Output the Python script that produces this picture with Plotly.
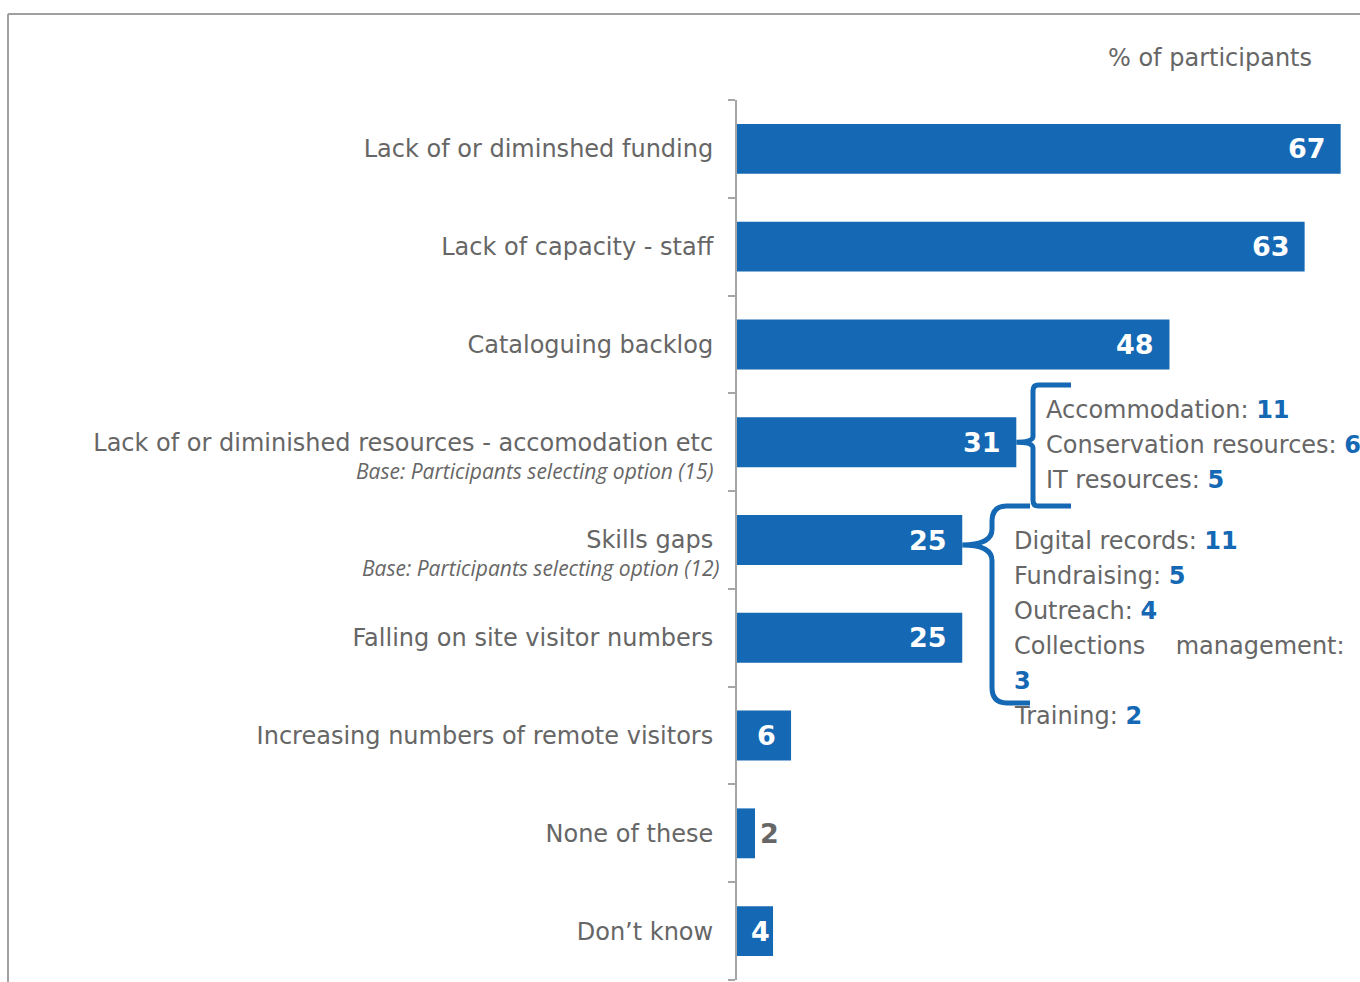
import plotly.graph_objects as go

# ---- data -------------------------------------------------------------
categories = [
    "Lack of or diminshed funding",
    "Lack of capacity - staff",
    "Cataloguing backlog",
    "Lack of or diminished resources - accomodation etc",
    "Skills gaps",
    "Falling on site visitor numbers",
    "Increasing numbers of remote visitors",
    "None of these",
    "Don\u2019t know",
]
values = [67, 63, 48, 31, 25, 25, 6, 2, 4]

base_notes = {
    3: "Base: Participants selecting option (15)",
    4: "Base: Participants selecting option (12)",
}

resource_items = ["Accommodation", "Conservation resources", "IT resources"]
resource_values = [11, 6, 5]

skills_items = ["Digital records", "Fundraising", "Outreach", "Collections management", "Training"]
skills_values = [11, 5, 4, 3, 2]

# ---- styling ----------------------------------------------------------
BLUE = "#1468b4"
GREY = "#666666"
AXIS_GREY = "#a6a6a6"
FONT = "DejaVu Sans"
TEXT_SIZE = 24

W, H = 1360, 982
L, R, T, B = 737, 0, 100, 2
PX_PER_UNIT = 9.01
X_MAX = (W - L - R) / PX_PER_UNIT
N = len(categories)
PLOT_H = H - T - B
ROW = PLOT_H / N


def px_x(px):
    """pixel column -> x data value"""
    return (px - L) / PX_PER_UNIT


def px_y(py):
    """pixel row -> y data value (rows run top to bottom)"""
    return (py - T) / ROW - 0.5


def paper_x(px):
    return (px - L) / (W - L - R)


def paper_y(py):
    return 1 - (py - T) / PLOT_H


fig = go.Figure()

fig.add_trace(go.Bar(
    x=values,
    y=list(range(N)),
    orientation="h",
    width=0.51,
    marker=dict(color=BLUE, line=dict(width=0)),
    hoverinfo="skip",
))

annotations = []

# value labels: white inside the bar end, grey beside very short bars
for i, v in enumerate(values):
    if v >= 5:
        annotations.append(dict(x=v, y=i, xref="x", yref="y", text=f"<b>{v}</b>",
                                showarrow=False, xanchor="right", xshift=-13,
                                font=dict(family=FONT, size=27, color="white")))
    elif v <= 2:
        annotations.append(dict(x=v, y=i, xref="x", yref="y", text=f"<b>{v}</b>",
                                showarrow=False, xanchor="left", xshift=3,
                                font=dict(family=FONT, size=27, color=GREY)))
    else:
        annotations.append(dict(x=v, y=i, xref="x", yref="y", text=f"<b>{v}</b>",
                                showarrow=False, xanchor="right", xshift=-1,
                                font=dict(family=FONT, size=27, color="white")))

# base notes under two category labels
for i, note in base_notes.items():
    annotations.append(dict(x=0, y=i + 0.29, xref="paper", yref="y", text=f"<i>{note}</i>",
                            showarrow=False, xanchor="right", xshift=-22 if i == 3 else -16,
                            font=dict(family="Open Sans", size=21, color=GREY)))

# axis caption
annotations.append(dict(x=paper_x(1314), y=paper_y(58), xref="paper", yref="paper",
                        text="% of participants", showarrow=False,
                        xanchor="right", yanchor="middle",
                        font=dict(family=FONT, size=TEXT_SIZE, color=GREY)))


def item_line(label, value):
    return f"{label}: <span style='color:{BLUE}'><b>{value}</b></span>"


LINE = 35  # px between breakdown lines

# breakdown of "resources"
for k, (lab, v) in enumerate(zip(resource_items, resource_values)):
    annotations.append(dict(x=px_x(1044), y=px_y(410 + k * LINE), xref="x", yref="y",
                            text=item_line(lab, v), showarrow=False, xanchor="left",
                            font=dict(family=FONT, size=TEXT_SIZE, color=GREY)))

# breakdown of "skills gaps"
lines = []
for lab, v in zip(skills_items, skills_values):
    if len(lab) > 20:
        first, second = lab.split(" ", 1)
        lines.append(first + "\u00a0\u00a0\u00a0 " + second + ":")
        lines.append(f"<span style='color:{BLUE}'><b>{v}</b></span>")
    else:
        lines.append(item_line(lab, v))
for k, txt in enumerate(lines):
    annotations.append(dict(x=px_x(1012), y=px_y(541 + k * LINE), xref="x", yref="y",
                            text=txt, showarrow=False, xanchor="left",
                            font=dict(family=FONT, size=TEXT_SIZE, color=GREY)))


def brace(tip_x, tip_y, vx, ex, top, bot, rx, ry):
    return (f"M {ex},{top} L {vx + rx},{top} Q {vx},{top} {vx},{top + ry} "
            f"L {vx},{tip_y - ry} Q {vx},{tip_y} {tip_x},{tip_y} "
            f"Q {vx},{tip_y} {vx},{tip_y + ry} "
            f"L {vx},{bot - ry} Q {vx},{bot} {vx + rx},{bot} L {ex},{bot}")


shapes = [
    # brace grouping the resource breakdown
    dict(type="path", xref="x", yref="y",
         path=brace(values[3], 3.0, px_x(1033), px_x(1071), px_y(385), px_y(506), 0.6, 0.06),
         line=dict(color=BLUE, width=5)),
    # brace grouping the skills breakdown
    dict(type="path", xref="x", yref="y",
         path=brace(values[4], px_y(545), px_x(992), px_x(1030), px_y(506), px_y(703), 1.6, 0.16),
         line=dict(color=BLUE, width=5)),
    # page frame
    dict(type="line", xref="paper", yref="paper", x0=paper_x(8), x1=paper_x(W + 5),
         y0=paper_y(14), y1=paper_y(14), line=dict(color="#a0a0a0", width=2)),
    dict(type="line", xref="paper", yref="paper", x0=paper_x(8), x1=paper_x(8),
         y0=paper_y(14), y1=paper_y(H + 5), line=dict(color="#a0a0a0", width=2)),
]

fig.update_layout(
    width=W, height=H,
    margin=dict(l=L, r=R, t=T, b=B),
    paper_bgcolor="white", plot_bgcolor="white",
    showlegend=False,
    annotations=annotations,
    shapes=shapes,
    xaxis=dict(range=[0, X_MAX], visible=False, fixedrange=True),
    yaxis=dict(
        range=[N - 0.5, -0.5],
        tickmode="array", tickvals=list(range(N)), ticktext=categories,
        ticks="", showgrid=False, zeroline=False,
        showline=True, linecolor=AXIS_GREY, linewidth=2,
        tickfont=dict(family=FONT, size=TEXT_SIZE, color=GREY),
        ticklabelstandoff=17,
        minor=dict(tickmode="array", tickvals=[i - 0.5 for i in range(N + 1)],
                   ticks="outside", ticklen=7, tickwidth=2, tickcolor=AXIS_GREY,
                   showgrid=False),
        fixedrange=True,
    ),
)

fig.write_html("out.html")
